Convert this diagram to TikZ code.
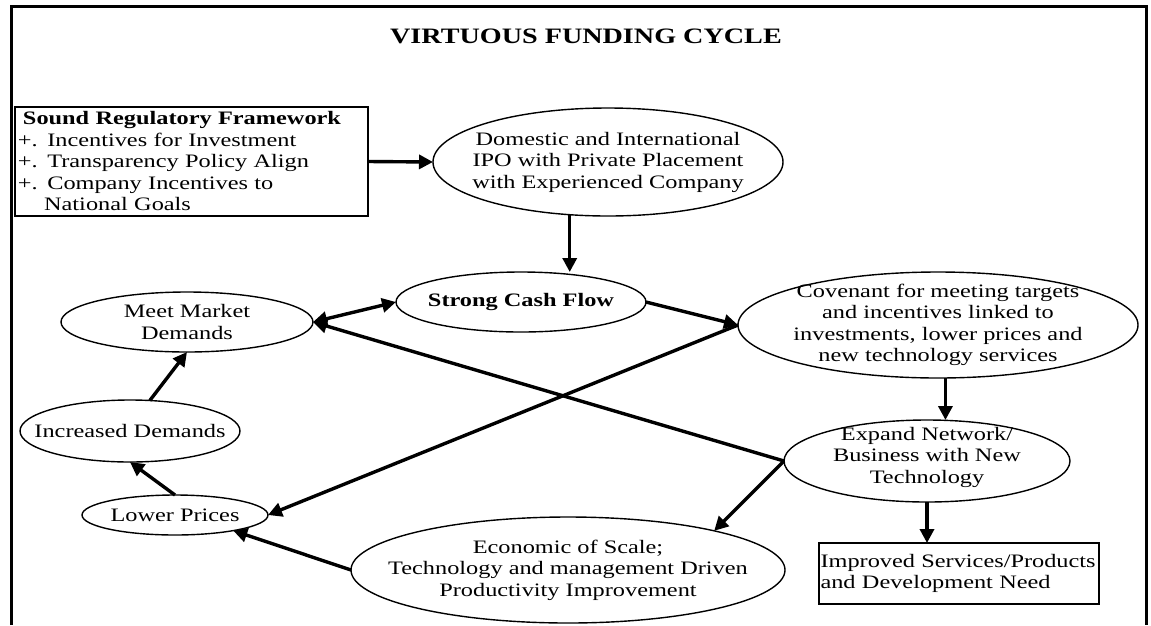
\documentclass[tikz,border=0pt]{standalone}
\usepackage{fontspec}
\setmainfont{Liberation Serif}[FakeStretch=1.28]
\usetikzlibrary{shapes.geometric,arrows.meta}
\begin{document}
\begin{tikzpicture}[x=1pt,y=-1pt,
  every node/.style={font=\fontsize{19}{21.5}\selectfont},
  ell/.style={draw, ellipse, line width=1.4pt, inner sep=0pt, outer sep=0pt},
  lbl/.style={align=center, inner sep=0pt},
  boxn/.style={draw, rectangle, line width=1.4pt, outer sep=0pt, align=left},
  tip/.tip={Triangle[length=14pt,width=14pt]},
  conn/.style={line width=3.4pt, -tip},
  dconn/.style={line width=3.4pt, tip-tip},
]
\useasboundingbox (0,0) rectangle (1151,625);
\fill[white] (0,0) rectangle (1151,625);
% frame
\draw[line width=3pt] (11.5,625) -- (11.5,6) -- (1146,6) -- (1146,625);
% title
\node[font=\fontsize{22}{24}\selectfont\bfseries] (title) at (586,36) {VIRTUOUS FUNDING CYCLE};
% nodes
\node[boxn, minimum width=353pt, minimum height=109pt, text width=347pt, inner xsep=3pt] (reg) at (191.5,161.5)
  {\hspace*{5pt}\textbf{Sound Regulatory Framework}\\
   +. Incentives for Investment\\
   +. Transparency Policy Align\\
   +. Company Incentives to\\
   \phantom{+.\ }National Goals};
\node[ell, minimum width=350pt, minimum height=108pt,
  label={[lbl]center:{Domestic and International\\IPO with Private Placement\\with Experienced Company}}] (ipo) at (608,162) {};
\node[ell, minimum width=250pt, minimum height=60pt,
  label={[lbl, font=\fontsize{19}{21.5}\selectfont\bfseries]center:{Strong Cash Flow}}] (cash) at (521,302) {};
\node[ell, minimum width=252pt, minimum height=60pt,
  label={[lbl]center:{Meet Market\\Demands}}] (meet) at (187,322) {};
\node[ell, minimum width=400pt, minimum height=106pt,
  label={[lbl]center:{Covenant for meeting targets\\and incentives linked to\\investments, lower prices and\\new technology services}}] (cov) at (938,325) {};
\node[ell, minimum width=286pt, minimum height=82pt,
  label={[lbl, yshift=4pt]center:{Expand Network/\\Business with New\\Technology}}] (exp) at (927,461) {};
\node[ell, minimum width=434pt, minimum height=106pt,
  label={[lbl]center:{Economic of Scale;\\Technology and management Driven\\Productivity Improvement}}] (econ) at (568,570) {};
\node[ell, minimum width=186pt, minimum height=40pt,
  label={[lbl]center:{Lower Prices}}] (lower) at (175,515) {};
\node[ell, minimum width=220pt, minimum height=62pt,
  label={[lbl]center:{Increased Demands}}] (inc) at (130,431) {};
\node[boxn, minimum width=280pt, minimum height=61pt, text width=277pt, inner xsep=1.5pt] (imp) at (959,573.5)
  {Improved Services/Products\\and Development Need};
% connectors
\draw[conn] (reg.east) -- (ipo.west);
\draw[conn] (ipo.234) -- (ipo.234 |- cash.north);
\draw[dconn] (meet.east) -- (cash.west);
\draw[conn] (cash.east) -- (cov.west);
\draw[conn] (cov.west) -- (lower.east);
\draw[conn] (cov.278) -- (cov.278 |- exp.north);
\draw[conn] (exp.south) -- (exp.south |- imp.north);
\draw[conn] (exp.west) -- (meet.east);
\draw[conn] (exp.west) -- (econ.15);
\draw[conn] (econ.west) -- (lower.345);
\draw[conn] (lower.north) -- (inc.south);
\draw[conn] (inc.57) -- (meet.south);
\end{tikzpicture}
\end{document}
